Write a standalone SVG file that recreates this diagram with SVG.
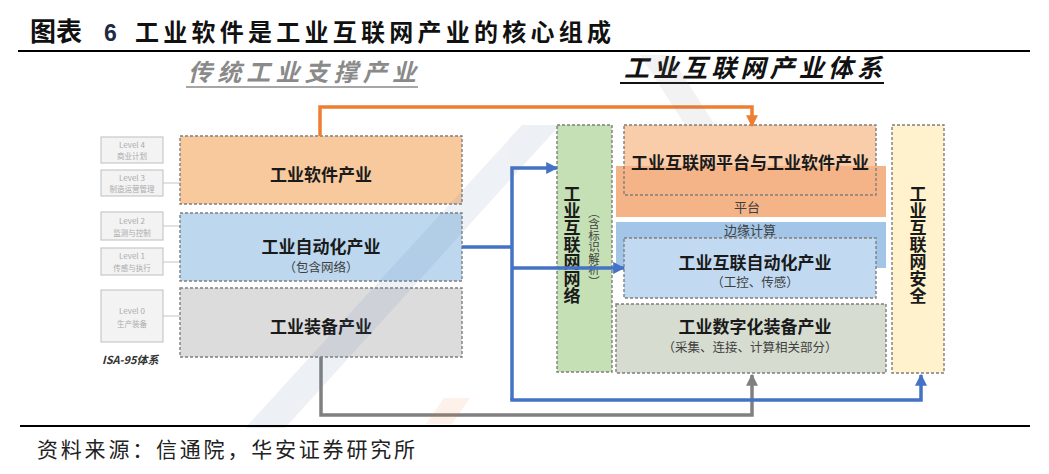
<svg xmlns="http://www.w3.org/2000/svg" width="1049" height="474" viewBox="0 0 1049 474">
<defs>
<style>
.cjk{font-family:"Noto Sans CJK SC","Noto Sans",sans-serif;}
.b{font-weight:700;fill:#1a1a1a;}
.dash{stroke:#7f7f7f;stroke-width:1.4;stroke-dasharray:3 2;}
.lvl{fill:#f3f3f3;stroke:#c9c9c9;stroke-width:1.2;}
.lt{font-family:"Noto Sans CJK SC","Noto Sans",sans-serif;fill:#ababab;text-anchor:middle;}
.conn{fill:none;stroke-width:3.5;stroke-linejoin:miter;}
.mid{text-anchor:middle;}
.sub{font-size:12.5px;fill:#404040;}
.vert{writing-mode:vertical-rl;text-anchor:middle;}
</style>
<marker id="ab" viewBox="0 0 10 10" refX="9" refY="5" markerWidth="12" markerHeight="12" markerUnits="userSpaceOnUse" orient="auto"><path d="M0,0 L10,5 L0,10 z" fill="#4472C4"/></marker>
<marker id="ao" viewBox="0 0 10 10" refX="9" refY="5" markerWidth="12" markerHeight="12" markerUnits="userSpaceOnUse" orient="auto"><path d="M0,0 L10,5 L0,10 z" fill="#ED7D31"/></marker>
<marker id="ag" viewBox="0 0 10 10" refX="9" refY="5" markerWidth="12" markerHeight="12" markerUnits="userSpaceOnUse" orient="auto"><path d="M0,0 L10,5 L0,10 z" fill="#808080"/></marker>
</defs>
<rect width="1049" height="474" fill="#ffffff"/>

<g id="title">
<text x="30" y="41" class="cjk" font-size="26" font-weight="700" fill="#111">图表</text>
<text x="104" y="41" font-family="Liberation Sans,Arial,sans-serif" font-size="23" font-weight="700" fill="#1f2a44">6</text>
<text x="135" y="41" class="cjk" font-size="24" font-weight="700" fill="#111" textLength="476" lengthAdjust="spacing">工业软件是工业互联网产业的核心组成</text>
<line x1="18" y1="51" x2="1030" y2="51" stroke="#000" stroke-width="2.2"/>
</g>

<g id="headings">
<text x="188" y="81" class="cjk" font-size="24" font-weight="700" font-style="italic" fill="#8a8a8a" textLength="228" lengthAdjust="spacing">传统工业支撑产业</text>
<line x1="186" y1="87" x2="418" y2="87" stroke="#8a8a8a" stroke-width="1.5"/>
<text x="624" y="77" class="cjk" font-size="25" font-weight="700" font-style="italic" fill="#111" textLength="258" lengthAdjust="spacing">工业互联网产业体系</text>
<line x1="620" y1="83" x2="884" y2="83" stroke="#111" stroke-width="1.8"/>
</g>

<g id="isa95">
<line x1="163" y1="183" x2="180" y2="183" stroke="#c4c4c4" stroke-width="1"/>
<line x1="163" y1="226" x2="180" y2="226" stroke="#c4c4c4" stroke-width="1"/>
<line x1="163" y1="262" x2="180" y2="262" stroke="#c4c4c4" stroke-width="1"/>
<line x1="163" y1="316" x2="180" y2="316" stroke="#c4c4c4" stroke-width="1"/>
<g id="level4"><rect x="101" y="137" width="62" height="26" class="lvl"/><text x="132" y="148" class="lt" font-size="8">Level 4</text><text x="132" y="159" class="lt" font-size="7.5">商业计划</text></g>
<g id="level3"><rect x="101" y="170" width="62" height="26" class="lvl"/><text x="132" y="181" class="lt" font-size="8">Level 3</text><text x="132" y="192" class="lt" font-size="7.5">制造运营管理</text></g>
<g id="level2"><rect x="101" y="212" width="62" height="28" class="lvl"/><text x="132" y="224" class="lt" font-size="8">Level 2</text><text x="132" y="236" class="lt" font-size="7.5">监测与控制</text></g>
<g id="level1"><rect x="101" y="248" width="62" height="27" class="lvl"/><text x="132" y="259" class="lt" font-size="8">Level 1</text><text x="132" y="271" class="lt" font-size="7.5">传感与执行</text></g>
<g id="level0"><rect x="101" y="290" width="62" height="52" class="lvl"/><text x="132" y="314" class="lt" font-size="8">Level 0</text><text x="132" y="327" class="lt" font-size="7.5">生产装备</text></g>
<text x="102" y="364" class="cjk" font-size="11" font-weight="700" font-style="italic" fill="#333">ISA-95体系</text>
</g>

<g id="software">
<rect x="180" y="136" width="282" height="68" fill="#F8C99D" class="dash"/>
<text x="321" y="181" class="cjk b mid" font-size="17">工业软件产业</text>
</g>
<g id="automation">
<rect x="180" y="213" width="282" height="68" fill="#BDD7EE" class="dash"/>
<text x="321" y="253" class="cjk b mid" font-size="17">工业自动化产业</text>
<text x="321" y="272" class="cjk mid sub">（包含网络）</text>
</g>
<g id="equipment">
<rect x="180" y="288" width="282" height="69" fill="#DCDCDC" class="dash"/>
<text x="321" y="333" class="cjk b mid" font-size="17">工业装备产业</text>
</g>

<g id="network">
<rect x="557" y="125" width="55" height="247" fill="#C5E0B4" class="dash"/>
<text x="572" y="245" class="cjk b vert" font-size="17">工业互联网网络</text>
<text x="594" y="247" class="cjk vert" font-size="11.5" fill="#404040">（含标识解析）</text>
</g>

<g id="platform">
<rect x="624" y="125" width="252" height="70" fill="#F9CDAA"/>
<rect x="616" y="166" width="270" height="51" fill="#F4B487"/>
<rect x="624" y="125" width="252" height="70" fill="none" class="dash"/>
<text x="750" y="169" class="cjk b mid" font-size="17">工业互联网平台与工业软件产业</text>
<text x="747" y="212" class="cjk mid" font-size="13" fill="#404040">平台</text>
</g>

<g id="iot-automation">
<rect x="616" y="222" width="270" height="46" fill="#A3C6E8"/>
<text x="750" y="235" class="cjk mid" font-size="13" fill="#404040">边缘计算</text>
<rect x="624" y="238" width="252" height="60" fill="#C2DAF1" class="dash"/>
<text x="755" y="269" class="cjk b mid" font-size="17">工业互联自动化产业</text>
<text x="755" y="287" class="cjk mid sub">（工控、传感）</text>
</g>

<g id="digital-equipment">
<rect x="616" y="304" width="270" height="69" fill="#D6DCD0" class="dash"/>
<text x="755" y="333" class="cjk b mid" font-size="17">工业数字化装备产业</text>
<text x="750" y="352" class="cjk mid sub">（采集、连接、计算相关部分）</text>
</g>

<g id="security">
<rect x="892" y="125" width="52" height="248" fill="#FFF2CC" class="dash"/>
<text x="918" y="245" class="cjk b vert" font-size="17">工业互联网安全</text>
</g>

<g id="connectors">
<path class="conn" stroke="#ED7D31" d="M320,136 V107 H752 V126" marker-end="url(#ao)"/>
<path class="conn" stroke="#808080" d="M321,357 V415 H752 V375" marker-end="url(#ag)"/>
<path class="conn" stroke="#4472C4" d="M462,247 H512"/>
<path class="conn" stroke="#4472C4" d="M512,400 V168 H557" marker-end="url(#ab)"/>
<path class="conn" stroke="#4472C4" d="M512,268 H624" marker-end="url(#ab)"/>
<path class="conn" stroke="#4472C4" d="M512,398 V400 H921 V375" marker-end="url(#ab)"/>
</g>

<g id="watermark" opacity="0.1">
<path d="M245,428 L285,428 L560,125 L522,125 Z" fill="#5b7bb0"/>
<path d="M426,424 L452,424 L470,398 L444,398 Z" fill="#ED7D31"/>
<path d="M640,55 L670,55 L715,125 L685,125 Z" fill="#8c8c8c"/>
</g>

<g id="footer">
<line x1="20" y1="426" x2="1030" y2="426" stroke="#000" stroke-width="2.2"/>
<text x="37" y="457" class="cjk" font-size="21" fill="#222" textLength="378" lengthAdjust="spacing">资料来源：信通院，华安证券研究所</text>
</g>
</svg>
